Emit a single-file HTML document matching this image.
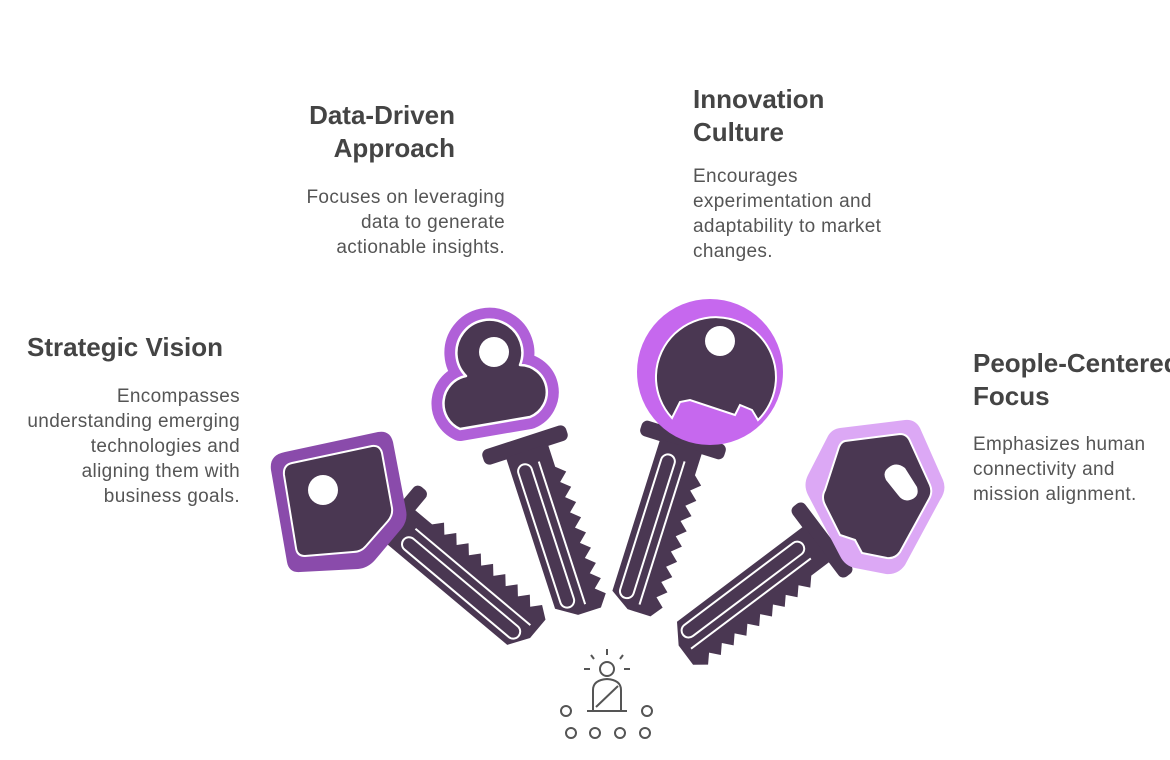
<!DOCTYPE html>
<html><head><meta charset="utf-8"><style>
html,body{margin:0;padding:0;background:#fff;}
body{width:1170px;height:760px;position:relative;overflow:hidden;font-family:"Liberation Sans",sans-serif;}
.t{position:absolute;font-weight:bold;font-size:26px;line-height:33px;color:#444;white-space:nowrap;}
.b{position:absolute;font-size:19px;line-height:25px;color:#555;white-space:nowrap;letter-spacing:0.35px;}
.r{text-align:right;}
svg{position:absolute;left:0;top:0;}
</style></head><body>
<svg width="1170" height="760" viewBox="0 0 1170 760">
<defs>
<g id="shaft">
  <rect x="-44" y="-8" width="88" height="16" rx="6" fill="#4a3752"/>
  <path d="M-22 6 L22 6 L22 30 L31 38 L22 46 L31 54 L22 62 L31 70 L22 78 L31 86 L22 94 L31 102 L22 110 L31 118 L22 126 L31 134 L22 142 L31 150 L22 158 L31 166 L22 178 L-2 178 L-22 165 Z" fill="#4a3752"/>
  <rect x="-15" y="18" width="14" height="150" rx="7" fill="none" stroke="#fff" stroke-width="2"/>
  <line x1="8" y1="20" x2="8" y2="170" stroke="#fff" stroke-width="2"/>
</g>
<path id="cloud" d="M466 376 A33 33 0 1 1 520 365 A27 27 0 0 1 530 417 L460 429 A28 28 0 0 1 466 376 Z"/>
</defs>
<!-- key1 -->
<g transform="translate(395,522) rotate(-50)"><use href="#shaft"/></g>
<path d="M285 452 L378 432 Q390 430 393 442 L406 510 Q408 520 402 528 L375 560 Q368 568 358 569 L300 572 Q289 573 287 562 L271 470 Q269 455 285 452 Z" fill="#8a4bab"/>
<path d="M292 463 L372 446 Q380 445 382 453 L392 508 Q393 515 388 521 L366 546 Q361 552 353 552 L305 556 Q297 556 296 548 L284 475 Q283 465 292 463 Z" fill="#4a3752" stroke="#fff" stroke-width="2"/>
<circle cx="323" cy="490" r="15" fill="#fff"/>
<!-- key2 -->
<g transform="translate(525,445) rotate(-18)"><use href="#shaft"/></g>
<use href="#cloud" fill="#b060d8" stroke="#b060d8" stroke-width="24" stroke-linejoin="round"/>
<use href="#cloud" fill="#4a3752" stroke="#fff" stroke-width="2.5" stroke-linejoin="round"/>
<circle cx="494" cy="352" r="15" fill="#fff"/>
<!-- key3 -->
<g transform="translate(683,440) rotate(17.5)"><use href="#shaft"/></g>
<circle cx="710" cy="372" r="73" fill="#c668ee"/>
<path d="M672 418 A60 60 0 1 1 758 420 L752 410 L740 405 L735 415 L690 400 L680 402 Z" fill="#4a3752" stroke="#fff" stroke-width="2"/>
<circle cx="720" cy="341" r="15" fill="#fff"/>
<!-- key4 -->
<g transform="translate(822,540) rotate(53)"><use href="#shaft"/></g>
<path d="M840 428 L905 420 Q915 419 920 428 L943 480 Q947 490 940 500 L905 565 Q898 575 886 574 L855 568 Q845 566 840 556 L808 495 Q803 485 808 475 L828 436 Q832 429 840 428 Z" fill="#dca8f5"/>
<path d="M845 441 L900 434 Q907 434 910 441 L930 485 Q933 492 929 499 L900 552 Q895 559 887 558 L862 553 L855 540 L840 535 L825 505 Q821 497 825 490 L838 450 Q840 442 845 441 Z" fill="#4a3752" stroke="#fff" stroke-width="2"/>
<path d="M886 470 Q895 460 905 468 L917 487 Q920 497 910 500 Q903 502 898 495 L886 480 Q883 474 886 470 Z" fill="#fff"/>
<!-- icon -->
<g stroke="#555" stroke-width="2" fill="none">
<circle cx="607" cy="669" r="7"/>
<path d="M593 710 L593 690 Q593 680 607 679 Q621 680 621 690 L621 710"/>
<line x1="596" y1="707" x2="618" y2="686"/>
<line x1="587" y1="711" x2="627" y2="711"/>
<line x1="584" y1="669" x2="590" y2="669"/><line x1="624" y1="669" x2="630" y2="669"/>
<line x1="607" y1="649" x2="607" y2="655"/><line x1="591" y1="655" x2="594" y2="659"/><line x1="623" y1="655" x2="620" y2="659"/>
<circle cx="566" cy="711" r="5"/><circle cx="647" cy="711" r="5"/>
<circle cx="571" cy="733" r="5"/><circle cx="595" cy="733" r="5"/><circle cx="620" cy="733" r="5"/><circle cx="645" cy="733" r="5"/>
</g>
</svg>
<div class="t" style="left:27px;top:331px;">Strategic Vision</div>
<div class="b r" style="right:930px;top:384px;">Encompasses<br>understanding emerging<br>technologies and<br>aligning them with<br>business goals.</div>
<div class="t r" style="right:715px;top:99px;">Data-Driven<br>Approach</div>
<div class="b r" style="right:665px;top:185px;">Focuses on leveraging<br>data to generate<br>actionable insights.</div>
<div class="t" style="left:693px;top:83px;">Innovation<br>Culture</div>
<div class="b" style="left:693px;top:164px;">Encourages<br>experimentation and<br>adaptability to market<br>changes.</div>
<div class="t" style="left:973px;top:347px;">People-Centered<br>Focus</div>
<div class="b" style="left:973px;top:432px;">Emphasizes human<br>connectivity and<br>mission alignment.</div>
</body></html>
